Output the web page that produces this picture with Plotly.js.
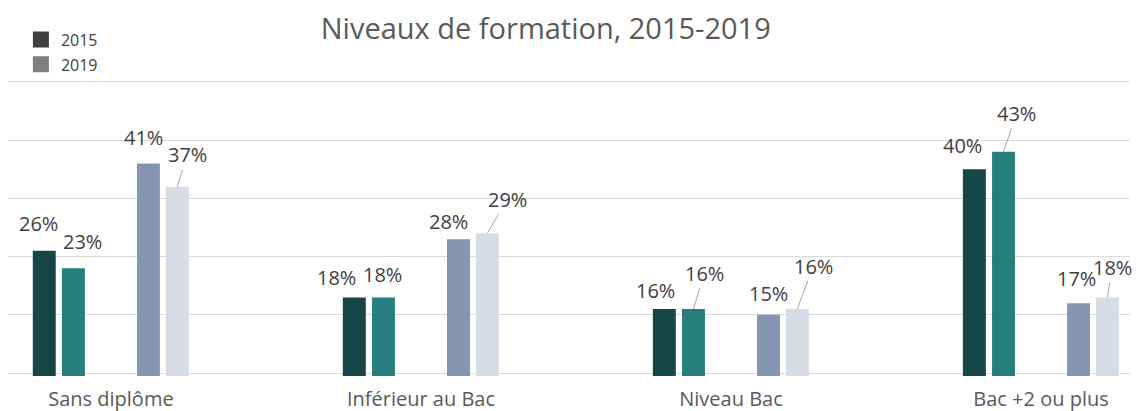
<!DOCTYPE html>
<html>
<head>
<meta charset="utf-8">
<script src="https://cdn.plot.ly/plotly-3.0.1.min.js"></script>
<style>html,body{margin:0;padding:0;background:#fff;}#chart{width:1137px;height:411px;}</style>
</head>
<body>
<div id="chart"></div>
<script>
// ---- data ----
const categories = ["Sans diplôme", "Inférieur au Bac", "Niveau Bac", "Bac +2 ou plus"];
const seriesA2015 = [26, 18, 16, 40];
const seriesA2019 = [23, 18, 16, 43];
const seriesB2015 = [41, 28, 15, 17];
const seriesB2019 = [37, 29, 16, 18];
const legendNames = ["2015", "2019"];
const titleText = "Niveaux de formation, 2015-2019";

// ---- styles ----
const FONT = "Open Sans, sans-serif";
const colors = ["#174646", "#267F7C", "#8496B0", "#D6DCE5"];
const barWidth = 0.074;
const barOffsets = [-0.252, -0.158, 0.084, 0.177];
// label placement (pixel offsets of the label centre from the bar top centre) and leader-line flag
const labelStyle = [
  [[-6,-27,0],[-18,-20,0],[-9,-19,0],[-12,-24,0]],
  [[9,-27,0],[-1,-23,0],[11,-36,1],[13,-38,1]],
  [[-5,-26,0],[-10,-18,0],[0,-21,0],[-2,-25,0]],
  [[10,-32,1],[20,-34,1],[16,-43,1],[5,-30,1]]
];

const series = [seriesA2015, seriesA2019, seriesB2015, seriesB2019];
const traces = series.map((vals, i) => ({
  type: "bar",
  x: categories,
  y: vals,
  width: barWidth,
  offset: barOffsets[i],
  marker: {color: colors[i]},
  showlegend: false,
  hoverinfo: "skip"
}));
const legendColors = ["#404040", "#7F7F7F"];
legendNames.forEach((n, i) => traces.push({
  type: "scatter", mode: "markers", x: [categories[0]], y: [null], name: n, legendgroup: "g" + i,
  marker: {color: legendColors[i], symbol: "square", size: 16}, showlegend: true, hoverinfo: "skip"
}));

const annotations = [];
series.forEach((vals, s) => {
  vals.forEach((v, c) => {
    const st = labelStyle[s][c];
    const xc = c + barOffsets[s] + barWidth / 2;
    const base = {x: xc, y: v, xref: "x", yref: "y", text: v + "%",
                  font: {family: FONT, size: 20, color: "#404040"}};
    if (st[2]) {
      annotations.push(Object.assign(base, {
        showarrow: true, arrowhead: 0, arrowwidth: 1, arrowcolor: "#A6A6A6",
        ax: st[0], ay: st[1], standoff: 0
      }));
    } else {
      annotations.push(Object.assign(base, {
        showarrow: false, xshift: st[0], yshift: -st[1], xanchor: "center", yanchor: "middle"
      }));
    }
  });
});

const layout = {
  width: 1137, height: 411,
  margin: {l: 8, r: 7, t: 79, b: 35},
  paper_bgcolor: "#ffffff", plot_bgcolor: "#ffffff",
  title: {text: titleText, x: 0.48, xanchor: "center", y: 0.93, yanchor: "middle",
          font: {family: FONT, size: 29, color: "#595959"}},
  barmode: "overlay",
  xaxis: {type: "category", range: [-0.332, 3.287], showgrid: false, showline: false, zeroline: false,
          ticks: "", ticklabelstandoff: 9, tickfont: {family: FONT, size: 20, color: "#595959"}, fixedrange: true},
  yaxis: {range: [4.5, 55.5], tickmode: "linear", tick0: 5, dtick: 10, showticklabels: false, showgrid: true,
          gridcolor: "#D9D9D9", gridwidth: 1, zeroline: false, showline: false, fixedrange: true},
  showlegend: true,
  legend: {x: 0.0115, y: 1.19, xanchor: "left", yanchor: "top", traceorder: "grouped", tracegroupgap: 1,
           font: {family: FONT, size: 16, color: "#404040"}, bgcolor: "rgba(0,0,0,0)"},
  annotations: annotations
};

Plotly.newPlot("chart", traces, layout, {displayModeBar: false, staticPlot: true});
</script>
</body>
</html>
